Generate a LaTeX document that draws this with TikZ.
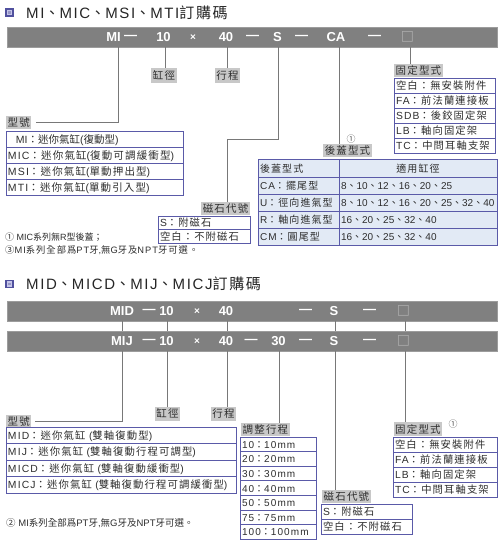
\documentclass[tikz,border=0pt]{standalone}
\usepackage{fontspec}
\setmainfont{Liberation Sans}[LetterSpace=11]
\newfontfamily\plain{Liberation Sans}
\newfontfamily\zh[LetterSpace=11]{Noto Sans CJK TC}
\newfontfamily\zhtight{Noto Sans CJK TC}
\newfontfamily\boxfont{DejaVu Sans}
% Han characters and full-width signs switch to the CJK face
\XeTeXinterchartokenstate=1
\newXeTeXintercharclass\HanClass
\newcount\hanidx
\hanidx="2460 \loop\ifnum\hanidx<"2500 \XeTeXcharclass\hanidx=\HanClass \advance\hanidx 1 \repeat
\hanidx="3000 \loop\ifnum\hanidx<"A000 \XeTeXcharclass\hanidx=\HanClass \advance\hanidx 1 \repeat
\hanidx="FF00 \loop\ifnum\hanidx<"FFF0 \XeTeXcharclass\hanidx=\HanClass \advance\hanidx 1 \repeat
\def\cjkfont{\zh}
\XeTeXinterchartoks 0 \HanClass = {\begingroup\cjkfont}
\XeTeXinterchartoks 4095 \HanClass = {\begingroup\cjkfont}
\XeTeXinterchartoks \HanClass 0 = {\endgroup}
\XeTeXinterchartoks \HanClass 4095 = {\endgroup}
\newcommand\tightset{\plain\def\cjkfont{\zhtight}}
\usepackage{tikz}
\usetikzlibrary{positioning,calc}
\definecolor{Bar}{HTML}{808080}
\definecolor{BarEdge}{HTML}{9C9C9C}
\definecolor{Tag}{HTML}{C8C8C8}
\definecolor{Ink}{HTML}{2E2E2E}
\definecolor{Frame}{HTML}{5A5AA8}
\definecolor{Wire}{HTML}{787878}
\definecolor{PaleBlue}{HTML}{E2EAF5}
\definecolor{IconBlue}{HTML}{50509E}
\definecolor{IconPale}{HTML}{C4C4E8}
\definecolor{Hollow}{HTML}{ABABAB}
\tikzset{
  codebar/.style={fill=Bar,draw=BarEdge,line width=.8pt,minimum width=490pt,minimum height=20pt,
    inner sep=0pt,outer sep=0pt,anchor=north west},
  part/.style={text=white,inner sep=0pt,font=\plain\fontsize{13}{14}\selectfont\bfseries},
  xsign/.style={part,font=\plain\fontsize{10}{12}\selectfont\bfseries},
  slot/.style={part,text=Hollow,font=\boxfont\fontsize{14}{14}\selectfont},
  tag/.style={fill=Tag,text=Ink,inner xsep=1.5pt,inner ysep=0pt,minimum height=13pt,
    text height=9pt,text depth=1.5pt,font=\fontsize{10.5}{12}\selectfont},
  cell/.style={draw=Frame,line width=.9pt,fill=white,text=Ink,anchor=north west,outer sep=0pt,
    inner xsep=2pt,inner ysep=0pt,align=left,text width=#1,text height=9.5pt,text depth=1.5pt,
    font=\fontsize{10.3}{12}\selectfont},
  tcell/.style={cell=#1,fill=PaleBlue,font=\fontsize{10}{12}\selectfont},
  wire/.style={draw=Wire,line width=1pt},
  note/.style={anchor=west,inner sep=0pt,text=Ink,font=\tightset\fontsize{9}{11}\selectfont},
  hint/.style={inner sep=0pt,text=Ink!80,font=\tightset\fontsize{9}{10}\selectfont},
  icon/.style={fill=IconPale,draw=IconBlue,line width=1.8pt,minimum size=7pt,inner sep=0pt,
    path picture={\fill[IconBlue!60] ([shift={(-1.3pt,-1.3pt)}]path picture bounding box.center)
      rectangle ([shift={(1.3pt,1.3pt)}]path picture bounding box.center);}},
  heading/.style={anchor=west,inner sep=0pt,text=black!85,font=\fontsize{15}{17}\selectfont},
}
\begin{document}
\begin{tikzpicture}[x=1pt,y=-1pt]
  \useasboundingbox[fill=white] (0,0) rectangle (500,542);
  % MI, MIC, MSI, MTI
  \node[icon] (ico1) at (9.5,12.5) {};
  \node[heading] (head1) at (26,12.5) {MI、MIC、MSI、MTI訂購碼};
  \node[codebar] (bar1) at (7,27) {};
  \foreach \x/\t [count=\i] in {113.5/MI,130.5/—,163.5/10,226/40,252.5/—,277.5/S,301.5/—,336/CA,374.5/—}
    \node[part] (p1-\i) at (\x,37) {\t};
  \node[xsign] (p1-x) at (193,37.5) {×};
  \node[slot] (p1-s) at (407.5,37) {□};
  \foreach \x/\n in {118/mdl,165/dia,227/len,278/mag,339/cap,410/fix}
    \coordinate (d1-\n) at (\x,47);
  \coordinate (k1) at (227,139);

  \node[tag,anchor=west] (t1-mdl) at (6,122.5) {型號};
  \node[tag,minimum height=15pt] (t1-dia) at (164,75.5) {缸徑};
  \node[tag,minimum height=15pt] (t1-len) at (227.5,75.5) {行程};
  \node[tag,anchor=south west] (t1-fix) at (394,77.5) {固定型式};
  \node[tag,anchor=south east] (t1-mag) at (250,215.5) {磁石代號};
  \node[tag,anchor=south] (t1-cap) at (347.5,157.5) {後蓋型式};
  \node[hint] (n1-cap) at (351,139.5) {①};

  \foreach \t [count=\i from 0] in {\tightset\hspace*{8pt}MI：迷你氣缸(復動型),MIC：迷你氣缸(復動可調緩衝型),MSI：迷你氣缸(單動押出型),MTI：迷你氣缸(單動引入型)}
    \node[cell=173pt,minimum height=16pt,font=\fontsize{10.5}{12}\selectfont] (m1-\i) at (6,131+16*\i) {\t};
  \foreach \t [count=\i from 0] in {空白：無安裝附件,FA：前法蘭連接板,SDB：後鉸固定架,LB：軸向固定架,TC：中問耳軸支架}
    \node[cell=97pt,minimum height=15pt] (f1-\i) at (394,78+15*\i) {\t};
  \foreach \t [count=\i from 0] in {S：附磁石,空白：不附磁石}
    \node[cell=88pt,minimum height=13.5pt] (g1-\i) at (158,216+13.5*\i) {\t};

  \node[tcell=77pt,minimum height=18pt] (cap0-a) at (258,159) {後蓋型式};
  \node[tcell=154pt,minimum height=18pt,align=center] (cap0-b) at (339,159) {適用缸徑};
  \foreach \a/\b [count=\i] in {CA：擺尾型/8、10、12、16、20、25,U：徑向進氣型/8、10、12、16、20、25、32、40,R：軸向進氣型/16、20、25、32、40,CM：圓尾型/16、20、25、32、40}{
    \node[tcell=77pt,minimum height=17pt] (cap\i-a) at (258,160+17*\i) {\a};
    \node[tcell=154pt,minimum height=17pt,font=\tightset\fontsize{10}{12}\selectfont] (cap\i-b) at (339,160+17*\i) {\b};
  }

  \node[note] (n1-a) at (5,237.5) {① MIC系列無R型後蓋；};
  \node[note,font=\fontsize{9.3}{11}\selectfont] (n1-b) at (5,250.5) {③MI系列全部爲PT牙,無G牙及NPT牙可選。};

  \draw[wire] (d1-mdl) |- ([xshift=4pt]t1-mdl.east);
  \draw[wire] (d1-dia) -- (d1-dia |- t1-dia.north);
  \draw[wire] (d1-len) -- (d1-len |- t1-len.north);
  \draw[wire] (d1-mag) |- (k1) -- (k1 |- t1-mag.north);
  \draw[wire] (d1-cap) -- (d1-cap |- t1-cap.north);
  \draw[wire] (d1-fix) -- (d1-fix |- t1-fix.north);

  % MID, MICD, MIJ, MICJ
  \node[icon] (ico2) at (9.5,284) {};
  \node[heading] (head2) at (26,284) {MID、MICD、MIJ、MICJ訂購碼};
  \node[codebar] (bar2) at (7,301) {};
  \node[codebar] (bar3) at (7,331) {};
  \foreach \x/\t [count=\i] in {122/MID,149/—,166.5/10,226/40,305.5/—,334/S,369.5/—}
    \node[part] (p2-\i) at (\x,311) {\t};
  \node[xsign] (p2-x) at (197,311.5) {×};
  \node[slot] (p2-s) at (403.5,311) {□};
  \foreach \x/\t [count=\i] in {122/MIJ,149/—,166.5/10,226/40,251/—,278.5/30,305.5/—,334/S,369.5/—}
    \node[part] (p3-\i) at (\x,341) {\t};
  \node[xsign] (p3-x) at (197,341.5) {×};
  \node[slot] (p3-s) at (403.5,341) {□};
  \foreach \x in {122,167,227,335,405}
    \draw[wire] (\x,0 |- bar2.south) -- (\x,0 |- bar3.north);
  \foreach \x/\n in {122/mdl,167/dia,227/len,279/adj,335/mag,405/fix}
    \coordinate (d2-\n) at (\x,351);

  \node[tag,anchor=west] (t2-mdl) at (6,421.5) {型號};
  \node[tag,minimum height=14pt,anchor=north] (t2-dia) at (167.5,407) {缸徑};
  \node[tag,minimum height=14pt,anchor=north] (t2-len) at (223.5,407) {行程};
  \node[tag,anchor=south west] (t2-adj) at (241,436.5) {調整行程};
  \node[tag,anchor=south west] (t2-mag) at (322,503) {磁石代號};
  \node[tag,minimum height=14pt,anchor=south west] (t2-fix) at (393.5,436.5) {固定型式};
  \node[hint] (n2-fix) at (453,424) {①};

  \foreach \t [count=\i from 0] in {MID：迷你氣缸~(雙軸復動型),MIJ：迷你氣缸~(雙軸復動行程可調型),MICD：迷你氣缸~(雙軸復動緩衝型),MICJ：迷你氣缸~(雙軸復動行程可調緩衝型)}
    \node[cell=226pt,minimum height=16.5pt,font=\fontsize{10.35}{13}\selectfont] (m2-\i) at (6,427+16.5*\i) {\t};
  \foreach \t [count=\i from 0] in {10：10mm,20：20mm,30：30mm,40：40mm,50：50mm,75：75mm,100：100mm}
    \node[cell=72pt,minimum height=14.6pt,font=\fontsize{10}{12}\selectfont] (s2-\i) at (240,437+14.6*\i) {\t};
  \foreach \t [count=\i from 0] in {S：附磁石,空白：不附磁石}
    \node[cell=87pt,minimum height=15pt] (g2-\i) at (321,504+15*\i) {\t};
  \foreach \t [count=\i from 0] in {空白：無安裝附件,FA：前法蘭連接板,LB：軸向固定架,TC：中問耳軸支架}
    \node[cell=100pt,minimum height=15pt] (f2-\i) at (393,437+15*\i) {\t};

  \node[note,font=\tightset\fontsize{9.5}{11}\selectfont] (n2-a) at (6,523) {② MI系列全部爲PT牙,無G牙及NPT牙可選。};

  \draw[wire] (d2-mdl) |- ([xshift=3pt]t2-mdl.east);
  \draw[wire] (d2-dia) -- (d2-dia |- t2-dia.north);
  \draw[wire] (d2-len) -- (d2-len |- t2-len.north);
  \draw[wire] (d2-adj) -- (d2-adj |- t2-adj.north);
  \draw[wire] (d2-mag) -- (d2-mag |- t2-mag.north);
  \draw[wire] (d2-fix) -- (d2-fix |- t2-fix.north);
\end{tikzpicture}
\end{document}
